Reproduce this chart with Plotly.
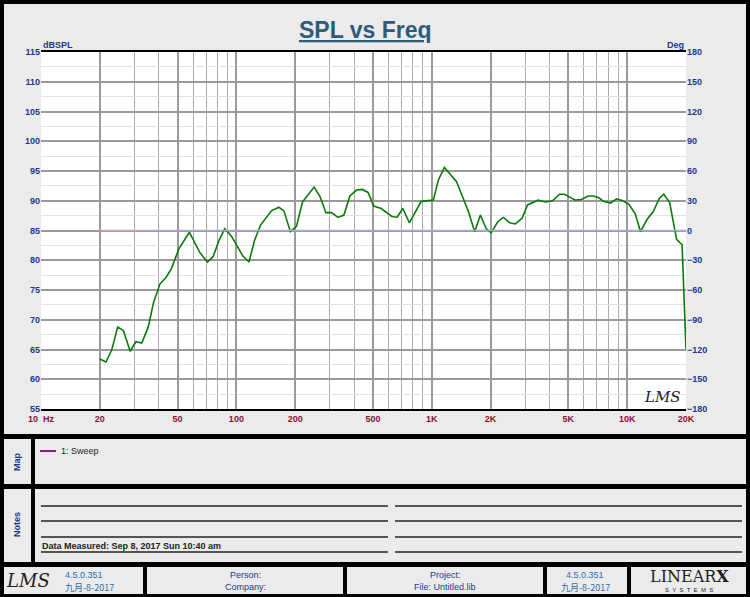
import plotly.graph_objects as go

freq = [20, 21.5, 23.0, 24.7, 26.4, 28.6, 30.6, 32.8, 35.4, 37.6, 40.6, 43.6, 46.5, 50.9, 57.5, 64.7, 71, 76, 81.6, 87.2,
        94.5, 108, 116, 124, 133, 151, 165, 175, 189, 203, 218, 250, 268, 287, 307, 331, 355, 381, 412, 441, 472, 505,
        551, 622, 663, 711, 768, 883, 1018, 1081, 1160, 1254, 1339, 1540, 1658, 1773, 1900, 2012, 2180, 2327, 2500,
        2680, 2900, 3090, 3500, 3830, 4150, 4500, 4780, 5430, 5830, 6310, 6740, 7160, 7570, 8230, 8810, 9520, 10200,
        11000, 11700, 12600, 13600, 14600, 15400, 16500, 17900, 19100, 20000]
spl = [63.4, 62.9, 64.9, 68.8, 68.2, 64.7, 66.3, 66.1, 68.8, 72.8, 76.0, 77.1, 78.6, 82.0, 84.7, 81.4, 79.7, 80.6, 83.4, 85.3,
       84.0, 80.7, 79.7, 83.4, 85.9, 88.3, 88.9, 88.3, 84.8, 85.7, 89.8, 92.3, 90.7, 88.0, 88.0, 87.2, 87.6, 90.8, 91.8, 91.9,
       91.4, 89.1, 88.7, 87.4, 87.2, 88.7, 86.3, 89.9, 90.1, 93.5, 95.6, 94.3, 93.2, 88.2, 84.8, 87.6, 85.3, 84.6, 86.5, 87.2,
       86.3, 86.1, 87.1, 89.3, 90.1, 89.8, 90.0, 91.1, 91.1, 90.1, 90.2, 90.8, 90.8, 90.5, 89.9, 89.6, 90.3, 90.0, 89.4,
       87.8, 84.8, 86.8, 88.2, 90.4, 91.1, 89.7, 83.5, 82.6, 65.0]
phase_red_f = [20, 32]
phase_red = [0, 0]
phase_blue_f = [32, 20000]
phase_blue = [0, 0]

x_tickvals = [10, 20, 50, 100, 200, 500, 1000, 2000, 5000, 10000, 20000]
x_ticktext = ["10  Hz", "20", "50", "100", "200", "500", "1K", "2K", "5K", "10K", "20K"]
minor_vals = [m * 10 ** d for d in range(1, 5) for m in range(1, 10) if m * 10 ** d <= 20000]
y_ticks = list(range(55, 116, 5))
y2_ticks = list(range(-180, 181, 30))

W, H = 750, 597
def px(x): return x / W
def py(y): return 1 - y / H

fig = go.Figure()
fig.add_trace(go.Scatter(x=freq, y=spl, mode="lines", line=dict(color="#0b7a0b", width=1.6), showlegend=False))
fig.add_trace(go.Scatter(x=phase_red_f, y=phase_red, yaxis="y2", mode="lines", line=dict(color="#e8a0a0", width=1.3), showlegend=False))
fig.add_trace(go.Scatter(x=phase_blue_f, y=phase_blue, yaxis="y2", mode="lines", line=dict(color="#a8a8e0", width=1.3), showlegend=False))

L, R, T, B = 41, 686, 52, 409
font_ax = dict(family="Liberation Sans", size=9, color="#1a3a8a", weight="bold")
fig.update_layout(
    width=W, height=H, margin=dict(l=0, r=0, t=0, b=0),
    paper_bgcolor="black", plot_bgcolor="white",
    xaxis=dict(type="log", domain=[px(L), px(R)], range=[1, 4.30103], tickvals=x_tickvals, ticktext=x_ticktext,
               tickfont=dict(family="Liberation Sans", size=9, color="#8b1030", weight="bold"), showgrid=True, gridcolor="#9a9a9a",
               gridwidth=1.5, ticks="", showline=True, linecolor="black", linewidth=2, mirror=True, automargin=False,
               minor=dict(tickvals=minor_vals, showgrid=True, gridcolor="#aaaaaa", gridwidth=1.2), zeroline=False),
    yaxis=dict(domain=[py(B), py(T)], range=[55, 115], tickvals=y_ticks, tickfont=font_ax, showgrid=True,
               gridcolor="#9a9a9a", gridwidth=1.5, ticks="", zeroline=False, automargin=False,
               minor=dict(dtick=2.5, showgrid=True, gridcolor="#e2e2e2", gridwidth=1)),
    yaxis2=dict(overlaying="y", side="right", range=[-180, 180], tickvals=y2_ticks, tickfont=font_ax,
                showgrid=False, zeroline=False, ticks="", automargin=False),
)

shapes = []
def rect(x0, y0, x1, y1, fill, line=None, lw=0):
    shapes.append(dict(type="rect", xref="paper", yref="paper", x0=px(x0), x1=px(x1), y0=py(y1), y1=py(y0),
                       fillcolor=fill, line=dict(width=lw, color=line or fill), layer="below"))
G = "#ebebeb"
rect(4, 4, 746, 434, G)
rect(L, T, R, B, "white")
rect(4, 439, 31, 484, G); rect(35, 439, 746, 484, G)
rect(4, 489, 31, 562, G); rect(35, 489, 746, 562, G)
for a, b in [(4, 143), (147, 343), (347, 543), (547, 627), (631, 746)]:
    rect(a, 567, b, 594, G)
for yy in [506, 521, 537, 552]:
    for a, b in [(41, 388), (395, 742)]:
        shapes.append(dict(type="line", xref="paper", yref="paper", x0=px(a), x1=px(b), y0=py(yy), y1=py(yy),
                           line=dict(color="#555555", width=2)))
shapes.append(dict(type="line", xref="paper", yref="paper", x0=px(40), x1=px(56), y0=py(451), y1=py(451),
                   line=dict(color="#8a1a8a", width=2)))
fig.update_layout(shapes=shapes)

ann = []
def t(x, y, s, size=9, color="#1a3a8a", xa="center", bold=False, angle=0, fam="Liberation Sans", italic=False):
    if bold: s = "<b>" + s + "</b>"
    if italic: s = "<i>" + s + "</i>"
    ann.append(dict(x=px(x), y=py(y), xref="paper", yref="paper", text=s, showarrow=False, xanchor=xa, yanchor="middle",
                    textangle=angle, font=dict(size=size, color=color, family=fam)))
t(365, 30, "<u>SPL vs Freq</u>", size=23, color="#2e5c78", bold=True, fam="Liberation Sans")
t(41, 45, "dBSPL", size=9, bold=True, xa="left")
t(686, 45, "Deg", size=9, bold=True, xa="right")
t(662, 397, "LMS", size=15, color="#222", italic=True, fam="DejaVu Serif")
t(17, 462, "Map", bold=True, angle=-90)
t(17, 525, "Notes", bold=True, angle=-90)
t(59, 451, "1: Sweep", size=9, color="#222", xa="left")
t(40, 546, "Data Measured: Sep 8, 2017 Sun 10:40 am", size=9, color="#222", xa="left", bold=True)
t(28, 580, "LMS", size=18, color="#222", italic=True, fam="DejaVu Serif")
t(63, 575, "4.5.0.351", color="#2a6fb0", xa="left")
t(63, 587, "九月-8-2017", color="#2a6fb0", xa="left", fam="Noto Sans CJK SC")
t(245, 575, "Person:"); t(245, 587, "Company:")
t(445, 575, "Project:"); t(445, 587, "File: Untitled.lib")
t(585, 575, "4.5.0.351", color="#2a6fb0"); t(585, 587, "九月-8-2017", color="#2a6fb0", fam="Noto Sans CJK SC")
t(689, 576, "LINEAR<b>X</b>", size=16, color="#222", fam="DejaVu Serif")
t(689, 590, "S  Y  S  T  E  M  S", size=6, color="#222")
fig.update_layout(annotations=ann)

fig.write_html("out.html", config={"displayModeBar": False})
with open("out.html", encoding="utf-8") as f:
    html = f.read()
html = html.replace("<head>", "<head><style>html,body{margin:0;padding:0;overflow:hidden}</style>", 1)
with open("out.html", "w", encoding="utf-8") as f:
    f.write(html)
